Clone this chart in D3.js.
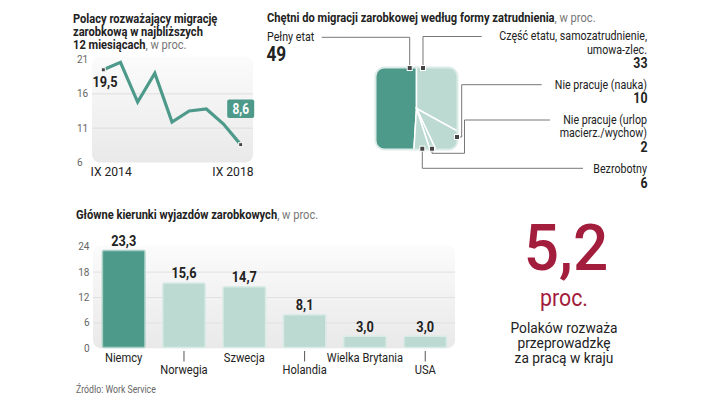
<!DOCTYPE html>
<html>
<head>
<meta charset="utf-8">
<script src="https://cdn.jsdelivr.net/npm/d3@7"></script>
<style>
  body { margin: 0; background: #fff; }
  svg { display: block; font-family: Roboto, "Noto Sans", sans-serif; }
</style>
</head>
<body>
<svg id="chart" width="720" height="406"></svg>
<script>
// line chart: Polacy rozważający migrację zarobkową
const periods = ['IX 2014', 'III 2015', 'IX 2015', 'III 2016', 'IX 2016', 'III 2017', 'IX 2017', 'III 2018', 'IX 2018'];
const migrationShare = [19.5, 20.6, 14.8, 19.0, 11.9, 13.5, 13.8, 11.6, 8.6];
const lineTicks = [6, 11, 16, 21];

// square pie: forma zatrudnienia
const jobForms = ['Pełny etat', 'Część etatu, samozatrudnienie, umowa-zlec.', 'Nie pracuje (nauka)', 'Nie pracuje (urlop macierz./wychow)', 'Bezrobotny'];
const jobShares = [49, 33, 10, 2, 6];

// bar chart: kierunki wyjazdów
const countries = ['Niemcy', 'Norwegia', 'Szwecja', 'Holandia', 'Wielka Brytania', 'USA'];
const countryShares = [23.3, 15.6, 14.7, 8.1, 3.0, 3.0];
const barTicks = [0, 6, 12, 18, 24];

const dark = '#4d9a8b';
const light = '#bddad2';
const fmt = v => d3.format('.1f')(v).replace('.', ',');

const svg = d3.select('#chart');

// text is drawn a bit narrower to mimic the condensed face of the original
function label(x, y, s, o) {
    o = o || {};
    return svg.append('text')
        .attr('transform', `translate(${x},${y}) scale(${o.k || 0.89},1)`)
        .attr('text-anchor', o.anchor || 'start')
        .style('font-size', (o.size || 12) + 'px')
        .style('font-weight', o.weight || (o.bold ? 'bold' : 'normal'))
        .attr('fill', o.fill || '#222')
        .text(s);
}

const defs = svg.append('defs');
const grad = defs.append('linearGradient').attr('id', 'bg').attr('x1', 0).attr('y1', 0).attr('x2', 0).attr('y2', 1);
grad.append('stop').attr('offset', '0%').attr('stop-color', '#fbfbfb');
grad.append('stop').attr('offset', '100%').attr('stop-color', '#e9e9e9');

function title(x, y, lines, lightPart) {
    lines.forEach((l, i) => {
        const t = label(x, y + i * 13, l, { bold: true, size: 12.5, k: 0.89 });
        if (i === lines.length - 1) {
            t.append('tspan').text(lightPart).style('font-weight', 'normal').attr('fill', '#777');
        }
    });
}

// ---------- line chart ----------
title(73, 23, ['Polacy rozważający migrację', 'zarobkową w najbliższych', '12 miesiącach'], ', w proc.');

const ly = d3.scaleLinear().domain([6, 21]).range([162.5, 59.5]);
const lx = d3.scalePoint().domain(periods).range([103.3, 240.7]);

svg.append('rect').attr('x', 92).attr('y', ly(21) - 3).attr('width', 161).attr('height', ly(6) - ly(21) + 3)
    .attr('rx', 8).attr('fill', 'url(#bg)');
svg.append('g').selectAll('line').data(lineTicks.slice(1, 3)).enter().append('line')
    .attr('x1', 92).attr('x2', 253).attr('y1', d => ly(d)).attr('y2', d => ly(d))
    .attr('stroke', '#dedede').attr('stroke-width', 1);
svg.append('g').selectAll('text').data(lineTicks).enter().append('text')
    .attr('x', 77).attr('y', d => ly(d) + 3.5).text(d => d)
    .style('font-size', '10px').attr('fill', '#666');

const line = d3.line().x((d, i) => lx(periods[i])).y(d => ly(d));
svg.append('path').datum(migrationShare).attr('d', line)
    .attr('fill', 'none').attr('stroke', dark).attr('stroke-width', 3.2).attr('stroke-linejoin', 'miter');

[0, migrationShare.length - 1].forEach(i => {
    svg.append('rect').attr('x', lx(periods[i]) - 2).attr('y', ly(migrationShare[i]) - 2)
        .attr('width', 4).attr('height', 4).attr('fill', '#444').attr('stroke', '#fff').attr('stroke-width', 1);
});

label(92.5, 87, fmt(migrationShare[0]), { size: 15, bold: true, k: 0.85 });
const lastX = lx(periods[periods.length - 1]);
svg.append('rect').attr('x', lastX - 13.5).attr('y', 99.5).attr('width', 27).attr('height', 18.5).attr('rx', 2).attr('fill', dark);
label(lastX, 113.5, fmt(migrationShare[migrationShare.length - 1]), { size: 14, bold: true, k: 0.85, anchor: 'middle', fill: '#fff' });

label(90.5, 176, periods[0], { size: 12.5, k: 0.97 });
label(253.5, 176, periods[periods.length - 1], { size: 12.5, k: 0.97, anchor: 'end' });

// ---------- square pie ----------
title(267, 22, ['Chętni do migracji zarobkowej według formy zatrudnienia'], ', w proc.');

const box = { x: 375.5, y: 67.5, w: 82, h: 82 };
const cx = box.x + 41, cy = box.y + 41;
defs.append('clipPath').attr('id', 'sq').append('rect')
    .attr('x', box.x).attr('y', box.y).attr('width', box.w).attr('height', box.h).attr('rx', 9);

const pie = d3.pie().sort(null).startAngle(-jobShares[0] / 100 * 2 * Math.PI)
    .endAngle(2 * Math.PI - jobShares[0] / 100 * 2 * Math.PI);
const arc = d3.arc().innerRadius(0).outerRadius(70);
svg.append('g').attr('clip-path', 'url(#sq)')
    .append('g').attr('transform', `translate(${cx},${cy})`)
    .selectAll('path').data(pie(jobShares)).enter().append('path')
    .attr('d', arc).attr('fill', (d, i) => i === 0 ? dark : light)
    .attr('stroke', '#fff').attr('stroke-width', 1.5);
svg.append('rect').attr('x', box.x).attr('y', box.y).attr('width', box.w).attr('height', box.h).attr('rx', 9)
    .attr('fill', 'none').attr('stroke', '#dcebe7').attr('stroke-width', 2);

// leader lines (layout only)
const leaders = [
    { m: [409.7, 68], p: [[409.7, 37.3], [321.7, 37.3]] },
    { m: [423, 68], p: [[423, 36.5], [481.7, 36.5]] },
    { m: [457, 137], p: [[461.7, 137], [461.7, 84.7], [541.7, 84.7]] },
    { m: [432, 148.7], p: [[432, 153.3], [464.5, 153.3], [464.5, 120], [550, 120]] },
    { m: [422.3, 148.7], p: [[422.3, 168.3], [583, 168.3]] }
];
leaders.forEach(l => {
    svg.append('path').attr('d', d3.line()([l.m].concat(l.p)))
        .attr('fill', 'none').attr('stroke', '#777').attr('stroke-width', 1);
});
leaders.forEach(l => {
    svg.append('rect').attr('x', l.m[0] - 2.5).attr('y', l.m[1] - 2.5).attr('width', 5).attr('height', 5)
        .attr('fill', '#444').attr('stroke', '#fff').attr('stroke-width', 1);
});

label(267, 40.5, jobForms[0]);
label(266.5, 60.5, jobShares[0], { size: 21, bold: true, k: 0.82 });

const rightLabels = [
    { i: 1, lines: ['Część etatu, samozatrudnienie,', 'umowa-zlec.'], y: 40 },
    { i: 2, lines: ['Nie pracuje (nauka)'], y: 88.5 },
    { i: 3, lines: ['Nie pracuje (urlop', 'macierz./wychow)'], y: 123.5 },
    { i: 4, lines: ['Bezrobotny'], y: 173 }
];
rightLabels.forEach(r => {
    r.lines.forEach((l, k) => label(647, r.y + k * 13.5, l, { anchor: 'end' }));
    label(647.5, r.y + r.lines.length * 13.5 + 1, jobShares[r.i], { size: 14.5, bold: true, k: 0.85, anchor: 'end' });
});

// ---------- bar chart ----------
title(76, 219, ['Główne kierunki wyjazdów zarobkowych'], ', w proc.');

const by = d3.scaleLinear().domain([0, 24]).range([348.3, 246.7]);
const bx = d3.scaleBand().domain(countries).range([93.5, 455.4]).paddingInner(0.27).paddingOuter(0.135);

svg.append('rect').attr('x', 93).attr('y', by(24) - 1).attr('width', 362).attr('height', by(0) - by(24) + 1)
    .attr('rx', 8).attr('fill', 'url(#bg)');
svg.append('g').selectAll('line').data(barTicks.slice(1, 4)).enter().append('line')
    .attr('x1', 93).attr('x2', 455).attr('y1', d => by(d)).attr('y2', d => by(d))
    .attr('stroke', '#e1e1e1').attr('stroke-width', 1);
svg.append('g').selectAll('text').data(barTicks).enter().append('text')
    .attr('x', 89.5).attr('y', d => by(d) + 3.5).attr('text-anchor', 'end').text(d => d)
    .style('font-size', '10px').attr('fill', '#666');

svg.append('g').selectAll('rect').data(countryShares).enter().append('rect')
    .attr('x', (d, i) => bx(countries[i]) + 0.75).attr('y', d => by(d) + 0.75)
    .attr('width', bx.bandwidth() - 1.5).attr('height', d => by(0) - by(d) - 1.5)
    .attr('rx', 1.5)
    .attr('fill', (d, i) => i === 0 ? dark : light)
    .attr('stroke', (d, i) => i === 0 ? '#a9cfc6' : '#d9ebe6').attr('stroke-width', 1.5);

svg.append('g').selectAll('text').data(countryShares).enter().append('text')
    .attr('transform', (d, i) => `translate(${bx(countries[i]) + bx.bandwidth() / 2},${by(d) - 4}) scale(0.85,1)`)
    .attr('text-anchor', 'middle').text(fmt)
    .style('font-size', '15px').style('font-weight', 'bold').attr('fill', '#222');

countries.forEach((c, i) => {
    const x = bx(c) + bx.bandwidth() / 2;
    const low = i % 2 === 1;
    if (low) {
        svg.append('line').attr('x1', x).attr('x2', x).attr('y1', 351).attr('y2', 361.5)
            .attr('stroke', '#555').attr('stroke-width', 1);
    }
    label(x, low ? 374 : 361.5, c, { size: 12.5, anchor: 'middle' });
});

label(76, 393, 'Źródło: Work Service', { size: 10, fill: '#666', k: 0.87 });

// ---------- big number ----------
label(566, 270, '5,2', { size: 64, k: 0.97, anchor: 'middle', fill: '#a31d3d', weight: 500 });
label(564, 306, 'proc.', { size: 24, k: 0.89, anchor: 'middle', fill: '#a31d3d' });
['Polaków rozważa', 'przeprowadzkę', 'za pracą w kraju'].forEach((l, i) => {
    label(564, 332.5 + i * 15, l, { size: 14.5, k: 0.95, anchor: 'middle' });
});
</script>
</body>
</html>
